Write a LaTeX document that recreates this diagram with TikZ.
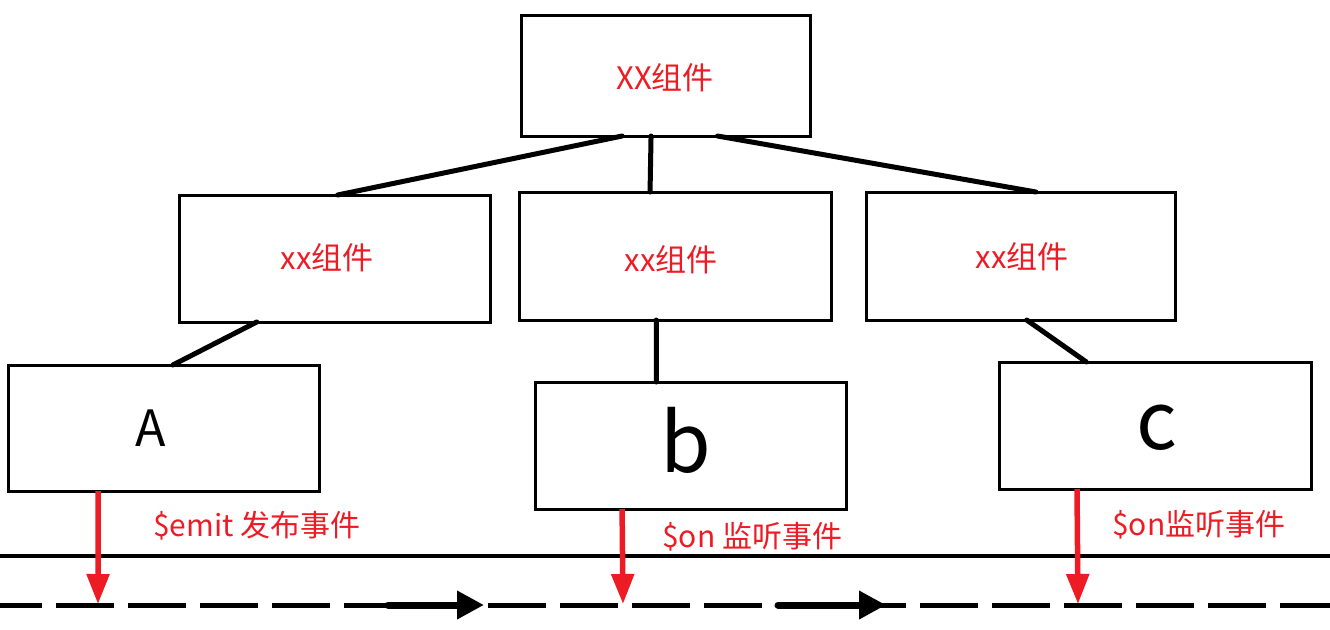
\documentclass[tikz,border=0pt]{standalone}
\usepackage{fontspec}
\newfontfamily\cjk{Noto Sans CJK SC}
\usetikzlibrary{calc,arrows.meta}
\definecolor{pred}{HTML}{ED1C24}
\tikzset{
  box/.style={draw=black, line width=3pt, fill=white, inner sep=0pt, outer sep=0pt},
  lbl/.style={text=pred, font=\cjk\fontsize{#1}{#1}\selectfont, inner sep=0pt},
  lbl/.default=30,
  big/.style={font=\cjk\fontsize{#1}{#1}\selectfont, inner sep=0pt},
  conn/.style={line width=5pt, line cap=round},
  redarrow/.style={draw=pred, line width=5.5pt, -{Triangle[length=30pt,width=22pt]}},
  blackarrow/.style={line width=7pt, line cap=round, -{Triangle[length=27pt,width=27pt]}},
}
\begin{document}
\begin{tikzpicture}[x=1pt,y=-1pt]
\useasboundingbox (0,0) rectangle (1330,629);
% boxes
\node[box, minimum width=289pt, minimum height=121pt] (top) at (665.5,75.5) {};
\node[box, minimum width=311pt, minimum height=127pt] (ml) at (334.5,258.5) {};
\node[box, minimum width=312pt, minimum height=128pt] (mc) at (675,256) {};
\node[box, minimum width=309pt, minimum height=128pt] (mr) at (1020.5,256) {};
\node[box, minimum width=311pt, minimum height=126pt] (A) at (163.5,428) {};
\node[box, minimum width=311pt, minimum height=127pt] (b) at (690.5,445.5) {};
\node[box, minimum width=312pt, minimum height=127pt] (c) at (1155,425.5) {};
% box texts
\node[lbl=31] (tt) at (665,78) {XX组件};
\node[lbl=31] (tml) at (327,258) {xx组件};
\node[lbl=31] (tmc) at (671,260) {xx组件};
\node[lbl=31] (tmr) at (1022,257) {xx组件};
\node[big=50] (tA) at (151,428) {A};
\node[big=82] (tb) at (686,440) {b};
\node[big=80] (tc) at (1157,428) {c};
% tree connectors
\draw[conn] ($(top.south west)!0.35!(top.south east)$) -- ($(ml.north west)!0.51!(ml.north east)$);
\draw[conn] ($(top.south west)!0.45!(top.south east)$) -- ($(mc.north west)!0.42!(mc.north east)$);
\draw[conn] ($(top.south west)!0.68!(top.south east)$) -- ($(mr.north west)!0.55!(mr.north east)$);
\draw[conn] ($(ml.south west)!0.25!(ml.south east)$) -- ($(A.north west)!0.53!(A.north east)$);
\draw[conn] ($(mc.south west)!0.44!(mc.south east)$) -- ($(b.north west)!0.39!(b.north east)$);
\draw[conn] ($(mr.south west)!0.52!(mr.south east)$) -- ($(c.north west)!0.28!(c.north east)$);
% bus lines
\coordinate (sl) at (0,556);
\coordinate (sr) at (1330,556);
\coordinate (dl) at (0,605);
\coordinate (dr) at (1330,605);
\draw[line width=4pt] (sl) -- (sr);
\draw[line width=5pt, dash pattern=on 58pt off 14pt, dash phase=16pt] (dl) -- (dr);
% black arrows on dashed line
\coordinate (k1s) at (388,605);
\coordinate (k1e) at (484,605);
\coordinate (k2s) at (778,605);
\coordinate (k2e) at (886,605);
\draw[blackarrow] (k1s) -- (k1e);
\draw[blackarrow] (k2s) -- (k2e);
% red arrows
\coordinate (ea) at (98,604);
\coordinate (eb) at (623,604);
\coordinate (ec) at (1078,604);
\draw[redarrow] ($(A.south west)!0.29!(A.south east)$) -- (ea);
\draw[redarrow] ($(b.south west)!0.28!(b.south east)$) -- (eb);
\draw[redarrow] ($(c.south west)!0.25!(c.south east)$) -- (ec);
% labels
\node[lbl, anchor=west] (la) at (153,526) {\$emit 发布事件};
\node[lbl, anchor=west] (lb) at (662,537) {\$on 监听事件};
\node[lbl, anchor=west] (lc) at (1112,525) {\$on监听事件};
\end{tikzpicture}
\end{document}
